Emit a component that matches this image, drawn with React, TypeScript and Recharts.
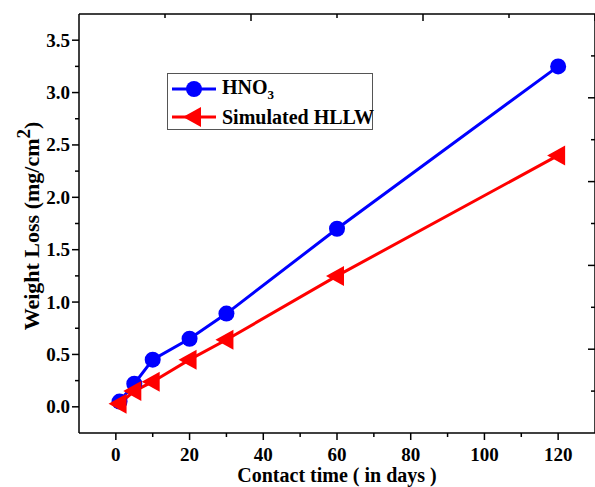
import React from "react";
import { LineChart, Line, XAxis, YAxis, Legend } from "recharts";

// contact time (days) and weight loss (mg/cm2)
const days = [1, 5, 10, 20, 30, 60, 120];
const hno3 = [0.05, 0.22, 0.45, 0.65, 0.89, 1.7, 3.25];
const hllw = [0.03, 0.15, 0.24, 0.45, 0.64, 1.25, 2.4];

const xTicks = [0, 10, 20, 30, 40, 50, 60, 70, 80, 90, 100, 110, 120];
const xMajor = [0, 20, 40, 60, 80, 100, 120];
const yTicks = [0, 0.25, 0.5, 0.75, 1, 1.25, 1.5, 1.75, 2, 2.25, 2.5, 2.75, 3, 3.25, 3.5];
const yMajor = [0, 0.5, 1, 1.5, 2, 2.5, 3, 3.5];
const frameTicks = [1, 2, 3, 4, 5, 6, 7, 8, 9];
const frameMajor = [2, 4, 6, 8];

const data = days.map((d, i) => ({ day: d, hno3: hno3[i], hllw: hllw[i] }));

const FONT = "'Liberation Serif', 'Times New Roman', serif";
const AX = 1.5;

const BottomTick = (p: any) => {
  const { x, y, payload } = p;
  const major = xMajor.includes(payload.value);
  return (
    <g>
      <line x1={x} y1={y} x2={x} y2={y + (major ? 7 : 4)} stroke="#000" strokeWidth={AX} />
      {major && (
        <text x={x} y={y + 28} textAnchor="middle" fontFamily={FONT} fontWeight="bold" fontSize={19} fill="#000">
          {payload.value}
        </text>
      )}
    </g>
  );
};

const LeftTick = (p: any) => {
  const { x, y, payload } = p;
  const major = yMajor.includes(payload.value);
  return (
    <g>
      <line x1={x} y1={y} x2={x - (major ? 7 : 4)} y2={y} stroke="#000" strokeWidth={AX} />
      {major && (
        <text x={x - 9} y={y + 6.5} textAnchor="end" fontFamily={FONT} fontWeight="bold" fontSize={19} fill="#000">
          {payload.value.toFixed(1)}
        </text>
      )}
    </g>
  );
};

const TopTick = (p: any) => {
  const { x, y, payload } = p;
  const major = frameMajor.includes(payload.value);
  return <line x1={x} y1={y} x2={x} y2={y + (major ? 7 : 4)} stroke="#000" strokeWidth={AX} />;
};

const RightTick = (p: any) => {
  const { x, y, payload } = p;
  const major = frameMajor.includes(payload.value);
  return <line x1={x} y1={y} x2={x - (major ? 7 : 4)} y2={y} stroke="#000" strokeWidth={AX} />;
};

const Circle = (p: any) => {
  const { cx, cy, fill } = p;
  if (cx == null || cy == null) return null;
  return <circle cx={cx} cy={cy} r={8} fill={fill} />;
};

const Tri = (p: any) => {
  const { cx, cy, fill } = p;
  if (cx == null || cy == null) return null;
  return <path d={`M${cx - 11},${cy} L${cx + 7},${cy - 10} L${cx + 7},${cy + 10} Z`} fill={fill} />;
};

const LegendBox = (props: any) => {
  const items = props.payload || [];
  return (
    <div style={{ border: "1px solid #555", width: 204, height: 55, background: "#fff", boxSizing: "content-box" }}>
      {items.map((it: any, i: number) => (
        <div key={i} style={{ display: "flex", alignItems: "center", height: 28, marginTop: i === 0 ? 1 : 0 }}>
          <svg width={50} height={24} style={{ marginLeft: 4, flexShrink: 0 }}>
            <line x1={0} y1={12} x2={44} y2={12} stroke={it.color} strokeWidth={3} />
            {it.dataKey === "hno3" ? (
              <circle cx={22} cy={12} r={8} fill={it.color} />
            ) : (
              <path d="M11,12 L29,2 L29,22 Z" fill={it.color} />
            )}
          </svg>
          <span style={{ fontFamily: FONT, fontWeight: "bold", fontSize: 20, color: "#000", whiteSpace: "nowrap" }}>
            {it.dataKey === "hno3" ? (
              <>
                HNO<sub style={{ fontSize: 13 }}>3</sub>
              </>
            ) : (
              it.value
            )}
          </span>
        </div>
      ))}
    </div>
  );
};

const XLabel = () => (
  <text x={337} y={482} textAnchor="middle" fontFamily={FONT} fontWeight="bold" fontSize={20} fill="#000">
    Contact time ( in days )
  </text>
);

const YLabel = () => (
  <text transform="translate(39,226) rotate(-90)" textAnchor="middle" fontFamily={FONT} fontWeight="bold" fontSize={22} fill="#000">
    Weight Loss (mg/cm<tspan dy={-9} fontSize={19}>2</tspan><tspan dy={9}>)</tspan>
  </text>
);

export default function App() {
  return (
    <div style={{ position: "absolute", left: 0, top: 0, background: "#fff" }}>
      <LineChart width={597} height={487} data={data} margin={{ top: 0, right: 0, bottom: 0, left: 0 }}>
        <XAxis
          dataKey="day"
          type="number"
          domain={[-10, 130]}
          ticks={xTicks}
          interval={0}
          tickSize={0}
          tickMargin={0}
          tick={<BottomTick />}
          axisLine={{ stroke: "#000", strokeWidth: AX }}
          height={54}
          label={<XLabel />}
        />
        <XAxis
          xAxisId="top"
          orientation="top"
          type="number"
          domain={[0, 10]}
          allowDataOverflow
          ticks={frameTicks}
          interval={0}
          tickSize={0}
          tickMargin={0}
          tick={<TopTick />}
          axisLine={{ stroke: "#000", strokeWidth: AX }}
          height={14}
        />
        <YAxis
          type="number"
          domain={[-0.25, 3.75]}
          ticks={yTicks}
          interval={0}
          tickSize={0}
          tickMargin={0}
          tick={<LeftTick />}
          axisLine={{ stroke: "#000", strokeWidth: AX }}
          width={79}
          label={<YLabel />}
        />
        <YAxis
          yAxisId="right"
          orientation="right"
          type="number"
          domain={[0, 10]}
          allowDataOverflow
          ticks={frameTicks}
          interval={0}
          tickSize={0}
          tickMargin={0}
          tick={<RightTick />}
          axisLine={{ stroke: "#000", strokeWidth: AX }}
          width={2}
        />
        <Legend
          layout="vertical"
          align="center"
          verticalAlign="middle"
          content={<LegendBox />}
          wrapperStyle={{ left: 167, top: 73, width: 206, height: 57 }}
        />
        <Line
          dataKey="hno3"
          name="HNO3"
          stroke="#0000ff"
          fill="#0000ff"
          strokeWidth={3}
          dot={<Circle />}
          activeDot={false}
          isAnimationActive={false}
        />
        <Line
          dataKey="hllw"
          name="Simulated HLLW"
          stroke="#ff0000"
          fill="#ff0000"
          strokeWidth={3}
          dot={<Tri />}
          activeDot={false}
          isAnimationActive={false}
        />
      </LineChart>
    </div>
  );
}
